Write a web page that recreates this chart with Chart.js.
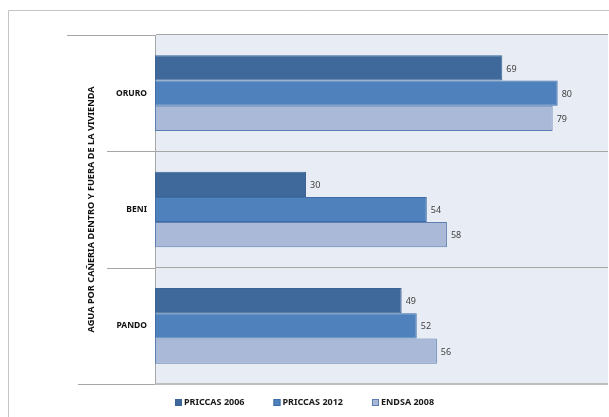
<!DOCTYPE html>
<html>
<head>
<meta charset="utf-8">
<script src="https://cdn.jsdelivr.net/npm/chart.js@4"></script>
<style>
  html, body { margin: 0; padding: 0; background: #fff; }
  #wrap { width: 609px; height: 417px; }
</style>
</head>
<body>
<div id="wrap"><canvas id="chart" width="609" height="417"></canvas></div>
<script>
// categories and series
const regions = ['ORURO', 'BENI', 'PANDO'];
const priccas2006 = [69, 30, 49];
const priccas2012 = [80, 54, 52];
const endsa2008 = [79, 58, 56];
const seriesNames = ['PRICCAS 2006', 'PRICCAS 2012', 'ENDSA 2008'];
const axisTitle = 'AGUA POR CAÑERIA DENTRO Y FUERA DE LA VIVIENDA';

const FONT = '"Noto Sans", "DejaVu Sans", sans-serif';

// plot background, outer frame, left tick extensions
const decor = {
    id: 'decor',
    beforeDraw(chart) {
        const { ctx, chartArea: a } = chart;
        ctx.save();
        ctx.fillStyle = '#e8ecf4';
        ctx.fillRect(a.left, a.top, a.right - a.left, a.bottom - a.top);
        ctx.strokeStyle = '#c4c4c4';
        ctx.lineWidth = 1;
        ctx.beginPath();
        ctx.moveTo(8.5, 417);
        ctx.lineTo(8.5, 10.5);
        ctx.lineTo(609, 10.5);
        ctx.stroke();
        ctx.restore();
    },
    afterDraw(chart) {
        const { ctx, chartArea: a, scales } = chart;
        const y = scales.y;
        const n = regions.length;
        const half = (y.getPixelForValue(1) - y.getPixelForValue(0)) / 2;
        ctx.save();
        ctx.strokeStyle = '#a6a6a6';
        ctx.lineWidth = 1;
        for (let i = 0; i <= n; i++) {
            const py = Math.round(y.getPixelForValue(i) - half) + 0.5;
            const x0 = i === 0 ? 67 : (i === n ? 78 : 107);
            ctx.beginPath();
            ctx.moveTo(x0, py);
            ctx.lineTo(a.left, py);
            ctx.stroke();
        }
        // bottom edge of plot
        ctx.strokeStyle = '#bdbdbd';
        ctx.lineWidth = 2;
        ctx.beginPath();
        ctx.moveTo(a.left, a.bottom);
        ctx.lineTo(a.right, a.bottom);
        ctx.stroke();
        ctx.restore();
    }
};

// value labels at bar ends
const barValues = {
    id: 'barValues',
    afterDatasetsDraw(chart) {
        const { ctx } = chart;
        ctx.save();
        ctx.font = '9px ' + FONT;
        ctx.fillStyle = '#404040';
        ctx.textBaseline = 'middle';
        chart.data.datasets.forEach((ds, di) => {
            chart.getDatasetMeta(di).data.forEach((bar, i) => {
                ctx.fillText(String(ds.data[i]), bar.x + 4, bar.y + 1);
            });
        });
        ctx.restore();
    }
};

// legend along the bottom
const bottomLegend = {
    id: 'bottomLegend',
    afterDraw(chart) {
        const { ctx } = chart;
        const ds = chart.data.datasets;
        const box = 7, gap = 2, spacing = 29, cy = 402.5;
        ctx.save();
        ctx.font = 'bold 9px ' + FONT;
        ctx.textBaseline = 'middle';
        const widths = ds.map(d => box + gap + ctx.measureText(d.label).width);
        const total = widths.reduce((s, w) => s + w, 0) + spacing * (ds.length - 1);
        let x = Math.round((chart.width - total) / 2);
        ds.forEach((d, i) => {
            ctx.fillStyle = d.backgroundColor;
            ctx.fillRect(x, cy - box / 2, box, box);
            ctx.strokeStyle = d.borderColor;
            ctx.lineWidth = 1;
            ctx.strokeRect(x + 0.5, cy - box / 2 + 0.5, box - 1, box - 1);
            ctx.fillStyle = '#1a1a1a';
            ctx.fillText(d.label, x + box + gap, cy);
            x += widths[i] + spacing;
        });
        ctx.restore();
    }
};

new Chart(document.getElementById('chart'), {
    type: 'bar',
    data: {
        labels: regions,
        datasets: [
            { label: seriesNames[0], data: priccas2006, backgroundColor: '#3f689b', borderColor: '#3c6597', borderWidth: 1 },
            { label: seriesNames[1], data: priccas2012, backgroundColor: '#4f81bd', borderColor: '#3d6ca6', borderWidth: 1 },
            { label: seriesNames[2], data: endsa2008, backgroundColor: '#aab9d7', borderColor: '#5a7fb0', borderWidth: 1 }
        ]
    },
    options: {
        indexAxis: 'y',
        responsive: false,
        animation: false,
        devicePixelRatio: 1,
        layout: { padding: { top: 35, right: 1, bottom: 33, left: 0 } },
        datasets: { bar: { categoryPercentage: 0.65, barPercentage: 1.0, borderSkipped: false } },
        plugins: {
            legend: { display: false },
            tooltip: { enabled: false }
        },
        scales: {
            x: {
                display: false,
                min: 0,
                max: 90
            },
            y: {
                offset: true,
                grid: { offset: true, color: '#a6a6a6', drawTicks: false },
                border: { display: true, color: '#a6a6a6' },
                ticks: {
                    padding: 8,
                    color: '#111111',
                    font: { family: FONT, size: 8.5, weight: 'bold' }
                },
                title: {
                    display: true,
                    text: axisTitle,
                    color: '#111111',
                    font: { family: FONT, size: 9.2, weight: 'bold' },
                    padding: { top: 86, bottom: 0 }
                },
                afterFit(scale) { scale.width = 155; }
            }
        }
    },
    plugins: [decor, barValues, bottomLegend]
});
</script>
</body>
</html>
